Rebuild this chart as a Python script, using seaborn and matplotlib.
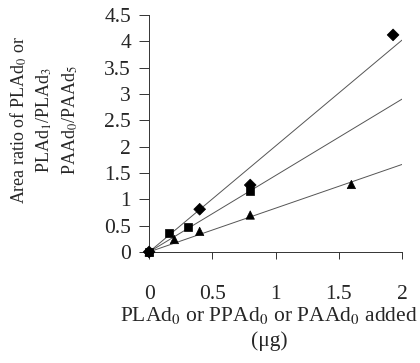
import numpy as np
import pandas as pd
import matplotlib
matplotlib.use("Agg")
import matplotlib.pyplot as plt
import seaborn as sns

# Data
pla_x = [0.0, 0.4, 0.8, 1.93]
pla_y = [0.0, 0.81, 1.27, 4.12]
ppa_x = [0.0, 0.16, 0.31, 0.80]
ppa_y = [0.0, 0.36, 0.475, 1.16]
paa_x = [0.0, 0.20, 0.40, 0.80, 1.60]
paa_y = [0.0, 0.235, 0.39, 0.70, 1.28]
# trend lines (value at x = 0 and x = 2)
trend_x = [0.0, 2.0]
trend_pla = [0.0, 4.02]
trend_ppa = [0.0, 2.90]
trend_paa = [0.0, 1.66]

x_ticks = [0, 0.5, 1, 1.5, 2]
x_tick_labels = ["0", "0.5", "1", "1.5", "2"]
y_ticks = [0, 0.5, 1, 1.5, 2, 2.5, 3, 3.5, 4, 4.5]
y_tick_labels = ["0", "0.5", "1", "1.5", "2", "2.5", "3", "3.5", "4", "4.5"]

sns.set_style("white")
plt.rcParams['font.family'] = ['Liberation Serif', 'DejaVu Serif']
plt.rcParams['mathtext.fontset'] = 'stix'

fig = plt.figure(figsize=(4.2, 3.63), dpi=100)
ax = fig.add_axes([0.355, 0.306, 0.602, 0.653])

trend_df = pd.DataFrame({
    "x": trend_x * 3,
    "y": trend_pla + trend_ppa + trend_paa,
    "s": ["pla"] * 2 + ["ppa"] * 2 + ["paa"] * 2,
})
sns.lineplot(data=trend_df, x="x", y="y", units="s", estimator=None,
             color="#555555", linewidth=0.7, ax=ax, legend=False)

df = pd.DataFrame({
    "x": pla_x + ppa_x + paa_x,
    "y": pla_y + ppa_y + paa_y,
    "s": ["pla"] * len(pla_x) + ["ppa"] * len(ppa_x) + ["paa"] * len(paa_x),
})
sns.scatterplot(data=df, x="x", y="y", style="s",
                markers={"pla": "D", "ppa": "s", "paa": "^"},
                color="black", s=36, edgecolor="black", linewidth=0.5,
                ax=ax, legend=False, zorder=3, clip_on=False)

ax.set_xlim(0, 2)
ax.set_ylim(0, 4.5)
ax.set_xticks(x_ticks)
ax.set_xticklabels(x_tick_labels)
ax.set_yticks(y_ticks)
ax.set_yticklabels(y_tick_labels)
ax.tick_params(axis="x", direction="out", length=5, width=0.7, pad=19,
               labelsize=15.5, bottom=True, color="#333333")
ax.tick_params(axis="y", direction="out", length=7, width=0.7, pad=6,
               labelsize=15.5, left=True, color="#333333")

for side in ["top", "right"]:
    ax.spines[side].set_visible(False)
for side in ["left", "bottom"]:
    ax.spines[side].set_linewidth(0.7)
    ax.spines[side].set_color("#333333")

ax.set_xlabel("PLAd$_0$ or PPAd$_0$ or PAAd$_0$ added\n(\u03bcg)",
              fontsize=15.5, linespacing=1.35)
ax.xaxis.set_label_coords(0.474, -0.225)
ax.set_ylabel("Area ratio of PLAd$_0$ or\nPLAd$_1$/PLAd$_3$\nPAAd$_0$/PAAd$_5$",
              fontsize=13, linespacing=1.4)
ax.yaxis.set_label_coords(-0.275, 0.557)

fig.savefig("out.png", dpi=100)
